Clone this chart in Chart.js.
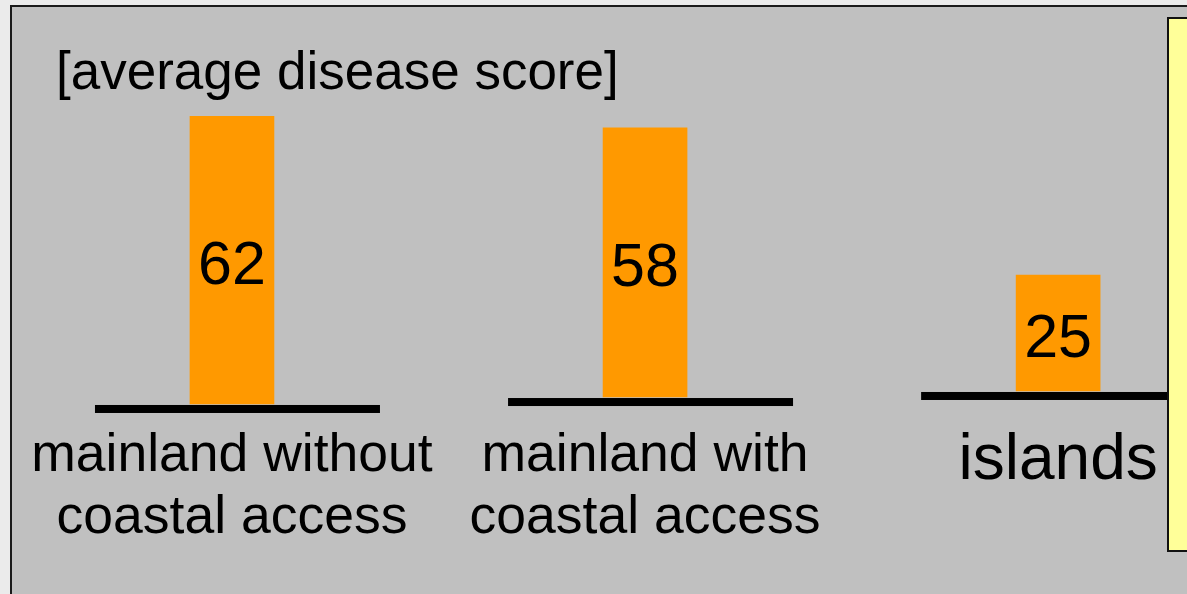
<!DOCTYPE html>
<html>
<head>
<meta charset="utf-8">
<script src="https://cdn.jsdelivr.net/npm/chart.js@4.4.1/dist/chart.umd.min.js"></script>
<style>
  html, body { margin: 0; padding: 0; width: 1187px; height: 594px; overflow: hidden; background: #ebebeb; }
  #frame { position: absolute; left: 10px; top: 5px; width: 1300px; height: 700px; background: #c0c0c0;
           border-left: 2px solid #1a1a1a; border-top: 2px solid #1a1a1a; box-sizing: border-box; }
  #chart { position: absolute; left: 0; top: 0; z-index: 1; }
  #note { position: absolute; left: 1167px; top: 17px; width: 60px; height: 535px; background: #ffff99;
          border: 2px solid #111; box-sizing: border-box; z-index: 2; }
</style>
</head>
<body>
<div id="frame"></div>
<canvas id="chart" width="1187" height="594"></canvas>
<div id="note"></div>
<script>
// ---- data ----
const categories = [["mainland without", "coastal access"], ["mainland with", "coastal access"], "islands"];
const values = [62, 58, 25];
const titleText = "[average disease score]";

const FONT = "'Liberation Sans', Arial, sans-serif";
const BAR_COLOR = "#ff9900";

// per-group vertical axis ranges (each group sits on its own baseline)
const axisRanges = [
  { min: -4.53, max: 62.80 },
  { min: -6.03, max: 61.30 },
  { min: -7.33, max: 60.00 }
];

const datasets = values.map((v, i) => ({
  label: typeof categories[i] === "string" ? categories[i] : categories[i].join(" "),
  data: [{ x: i, y: v }],
  yAxisID: "y" + i,
  backgroundColor: BAR_COLOR,
  borderWidth: 0,
  barThickness: 84,
  grouped: false,
  clip: false
}));

const scales = {
  x: {
    type: "linear",
    offset: false,
    min: -0.426,
    max: 2.312,
    grid: { display: false, drawTicks: false, offset: false },
    border: { display: false },
    afterFit: (scale) => { scale.paddingLeft = 0; scale.paddingRight = 0; },
    ticks: {
      stepSize: 1,
      includeBounds: false,
      autoSkip: false,
      maxRotation: 0,
      minRotation: 0,
      padding: 0,
      color: "#000",
      font: (ctx) => (ctx.tick && ctx.tick.value === 2)
        ? { family: FONT, size: 64, lineHeight: 1.15 }
        : { family: FONT, size: 53.5, lineHeight: "62px" },
      callback: (v) => (Number.isInteger(v) && categories[v] !== undefined) ? categories[v] : ""
    }
  }
};
axisRanges.forEach((r, i) => {
  scales["y" + i] = { type: "linear", display: false, min: r.min, max: r.max };
});

const baselinePlugin = {
  id: "baselines",
  beforeDatasetsDraw(chart) {
    const ctx = chart.ctx;
    ctx.save();
    ctx.fillStyle = "#000";
    chart.data.datasets.forEach((ds, i) => {
      const el = chart.getDatasetMeta(i).data[0];
      if (!el) return;
      const p = el.getProps(["x", "base"], true);
      ctx.fillRect(p.x - 137, p.base + 1, 285, 8);
    });
    ctx.restore();
  }
};

const valueLabelPlugin = {
  id: "valueLabels",
  afterDatasetsDraw(chart) {
    const ctx = chart.ctx;
    ctx.save();
    ctx.fillStyle = "#000";
    ctx.font = "61px " + FONT;
    ctx.textAlign = "center";
    ctx.textBaseline = "alphabetic";
    chart.data.datasets.forEach((ds, i) => {
      const el = chart.getDatasetMeta(i).data[0];
      if (!el) return;
      const p = el.getProps(["x", "y", "base"], true);
      ctx.fillText(String(values[i]), p.x, (p.y + p.base) / 2 + 24);
    });
    ctx.restore();
  }
};

new Chart(document.getElementById("chart"), {
  type: "bar",
  data: { datasets },
  options: {
    responsive: false,
    animation: false,
    events: [],
    layout: { padding: { top: 30, left: 56, right: 0, bottom: 45 } },
    plugins: {
      legend: { display: false },
      tooltip: { enabled: false },
      title: {
        display: true,
        text: titleText,
        align: "start",
        color: "#000",
        font: { family: FONT, size: 53, weight: "normal", lineHeight: 1.2 },
        padding: { top: 13, bottom: 6 }
      }
    },
    scales
  },
  plugins: [baselinePlugin, valueLabelPlugin]
});
</script>
</body>
</html>
